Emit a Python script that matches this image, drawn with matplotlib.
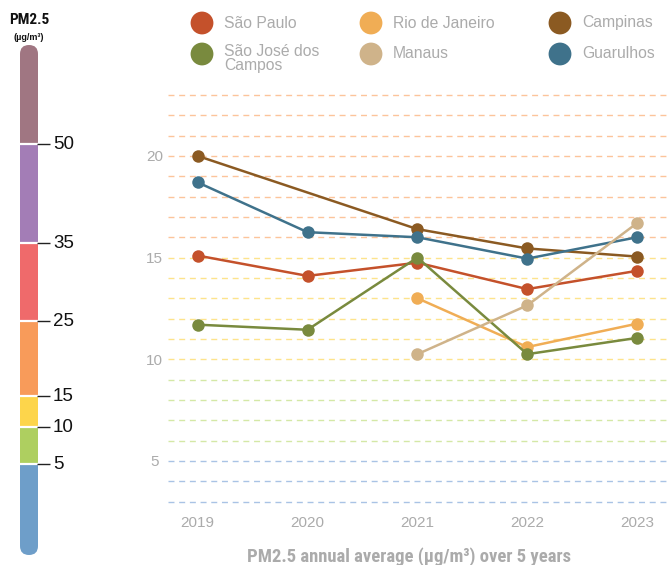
import numpy as np
import matplotlib
matplotlib.use("Agg")
import matplotlib.pyplot as plt
from matplotlib import font_manager
from matplotlib.patches import Rectangle, FancyBboxPatch

# ---- data -------------------------------------------------------------
years = [2019, 2020, 2021, 2022, 2023]
cities = ["São Paulo", "Rio de Janeiro", "Campinas",
          "São José dos\nCampos", "Manaus", "Guarulhos"]
sao_paulo = [15.1, 14.1, 14.75, 13.45, 14.35]
rio_de_janeiro = [np.nan, np.nan, 13.0, 10.6, 11.75]
campinas = [20.0, np.nan, 16.4, 15.45, 15.05]
sao_jose_dos_campos = [11.7, 11.45, 15.0, 10.25, 11.05]
manaus = [np.nan, np.nan, 10.25, 12.65, 16.7]
guarulhos = [18.7, 16.25, 16.0, 14.95, 16.0]
series = [sao_paulo, rio_de_janeiro, campinas,
          sao_jose_dos_campos, manaus, guarulhos]

y_ticks = [5, 10, 15, 20]
grid_values = list(range(3, 24))

scale_edges = [50, 35, 25, 15, 10, 5]

# ---- styles -----------------------------------------------------------
city_colors = ["#c4512b", "#f0ad55", "#8b5a22", "#798a3e", "#cfb38a", "#3f728b"]
draw_order = [1, 2, 3, 4, 6, 5]
band_colors = ["#a07682", "#a37db6", "#ef6a6b", "#f89b5a",
               "#fdd54b", "#aecf60", "#6e9ec9"]
grid_blue, grid_green, grid_yellow, grid_orange = (
    "#a9c3e5", "#d4e8a6", "#fde38c", "#fcc49b")
label_gray = "#ababab"

available = {f.name for f in font_manager.fontManager.ttflist}
base_font = "Liberation Sans" if "Liberation Sans" in available else "DejaVu Sans"
narrow_candidates = ["Roboto Condensed", "Archivo Narrow", "PT Sans Narrow",
                     "Liberation Sans Narrow", "Roboto"]
narrow_font = next((f for f in narrow_candidates if f in available), base_font)
plt.rcParams["font.family"] = [base_font, "DejaVu Sans"]

W, H = 669, 565
fig = plt.figure(figsize=(W / 100, H / 100), dpi=100)

# ---- main chart -------------------------------------------------------
ax_left, ax_right, ax_top, ax_bottom = 168, 669, 85, 505
ax = fig.add_axes([ax_left / W, (H - ax_bottom) / H,
                   (ax_right - ax_left) / W, (ax_bottom - ax_top) / H])
ax.set_xlim(2018.73, 2023.29)
ax.set_ylim(2.83, 23.49)
for s in ax.spines.values():
    s.set_visible(False)


def grid_color(v):
    if v <= 5:
        return grid_blue
    if v < 10:
        return grid_green
    if v <= 15:
        return grid_yellow
    return grid_orange


for v in grid_values:
    ax.axhline(v, color=grid_color(v), lw=1.0, ls=(0, (4.3, 3.4)), zorder=0)

for vals, color, z in zip(series, city_colors, draw_order):
    arr = np.array(vals, dtype=float)
    m = ~np.isnan(arr)
    xs = np.array(years)[m]
    ax.plot(xs, arr[m], color=color, lw=1.8, marker="o", ms=9,
            markeredgewidth=0, zorder=2 + z, solid_capstyle="round")

ax.set_xticks(years)
ax.set_xticklabels([str(y) for y in years])
ax.set_yticks(y_ticks)
ax.set_yticklabels([str(t) for t in y_ticks])
ax.tick_params(axis="both", length=0, labelsize=11, labelcolor=label_gray)
ax.tick_params(axis="x", pad=8)
ax.tick_params(axis="y", pad=9.7)
for lbl in ax.get_yticklabels():
    lbl.set_horizontalalignment("center")

fig.text(409 / W, 3 / H, "PM2.5 annual average (µg/m³) over 5 years",
         ha="center", va="baseline", fontsize=13.4, fontweight="bold",
         color=label_gray, family=[narrow_font, "DejaVu Sans"])

# ---- overlay in pixel units for legend and colour scale ----------------
ov = fig.add_axes([0, 0, 1, 1], zorder=5)
ov.set_xlim(0, W)
ov.set_ylim(H, 0)
ov.axis("off")

legend_cols_x = [202, 371, 560]
legend_rows_y = [23, 54]
for i, k in enumerate(range(len(cities))):
    cx = legend_cols_x[i % 3]
    cy = legend_rows_y[i // 3]
    ov.scatter([cx], [cy], s=270, color=city_colors[k], edgecolors="none")
    multi = "\n" in cities[k]
    ov.text(cx + 22, cy - 10 if multi else cy, cities[k],
            ha="left", va="top" if multi else "center",
            fontsize=11.3, color=label_gray, linespacing=0.95)

# colour scale bar
bar_x0, bar_x1, bar_top, bar_bot = 20, 38, 45, 555
edge_px = [144, 243, 321, 396, 427, 464]
bounds = [bar_top] + edge_px + [bar_bot]
clip = FancyBboxPatch((bar_x0, bar_top), bar_x1 - bar_x0, bar_bot - bar_top,
                      boxstyle="round,pad=0,rounding_size=9",
                      transform=ov.transData, facecolor="none", edgecolor="none")
ov.add_patch(clip)
for i, color in enumerate(band_colors):
    r = Rectangle((bar_x0, bounds[i]), bar_x1 - bar_x0, bounds[i + 1] - bounds[i],
                  facecolor=color, edgecolor="none")
    ov.add_patch(r)
    r.set_clip_path(clip)
for e, val in zip(edge_px, scale_edges):
    ov.plot([bar_x0, bar_x1], [e, e], color="white", lw=1.6, solid_capstyle="butt")
    ov.plot([bar_x1 - 1, 50], [e, e], color="#222222", lw=1.0, solid_capstyle="butt")
    ov.text(53, e + 0.5, str(val), ha="left", va="center", fontsize=13.5,
            color="#111111")

ov.text(29, 20, "PM2.5", ha="center", va="center", fontsize=11,
        fontweight="bold", color="#111111", family=[narrow_font, "DejaVu Sans"])
ov.text(29, 37, "(µg/m³)", ha="center", va="center", fontsize=6.5,
        fontweight="bold", color="#111111")

fig.savefig("out.png", dpi=100)
